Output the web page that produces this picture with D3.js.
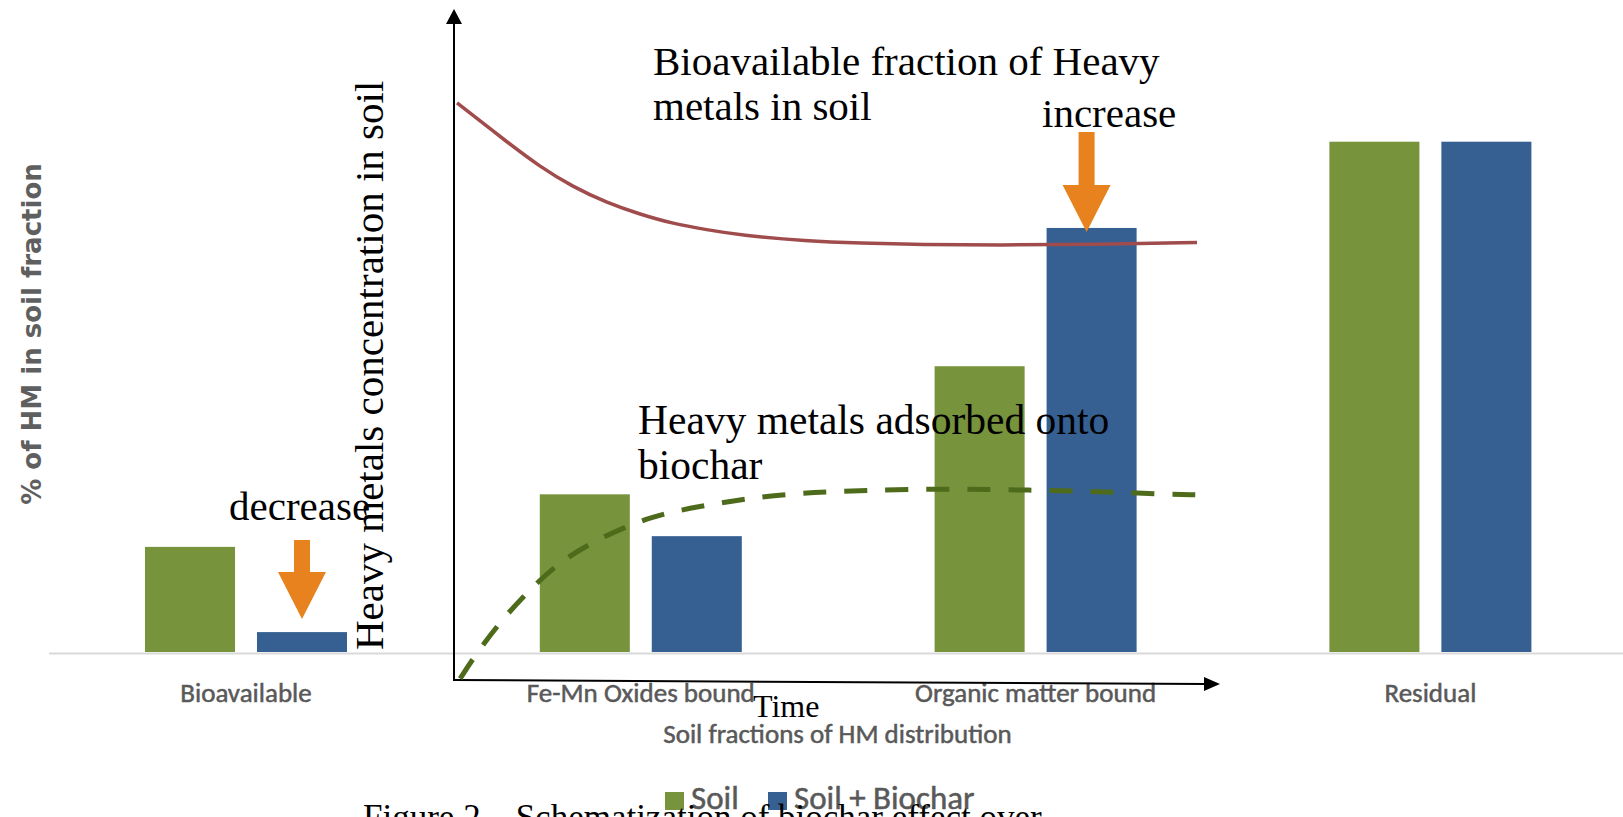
<!DOCTYPE html>
<html>
<head>
<meta charset="utf-8">
<script src="https://d3js.org/d3.v7.min.js"></script>
<style>
    body { margin: 0; background: #fff; }
    .cat-axis .domain { stroke: #d9d9d9; stroke-width: 2; }
    .cat-axis text { font-family: Carlito, Lato, sans-serif; font-size: 27px; fill: #595959; stroke: #595959; stroke-width: 0.5; }
    .gray-label { font-family: Carlito, Lato, sans-serif; fill: #595959; stroke: #595959; stroke-width: 0.5; }
    .serif { font-family: "Liberation Serif", "Times New Roman", serif; fill: #000; }
</style>
</head>
<body>
<svg id="chart" width="1623" height="817"></svg>
<script>
    // bar chart: % of HM in each soil fraction
    const categories = ["Bioavailable", "Fe-Mn Oxides bound", "Organic matter bound", "Residual"];
    const seriesNames = ["Soil", "Soil + Biochar"];
    const soilValues = [20.6, 30.9, 56.0, 100];
    const biocharValues = [3.9, 22.7, 83.1, 100];

    // schematic overlay: time (0-100) vs concentration (0-100)
    const bioTime = [0.4, 6.9, 11.2, 15.5, 20.0, 24.3, 28.6, 33.0, 37.3, 46.1, 53.0, 61.0, 71.0, 84.0, 97.0];
    const bioConc = [86.0, 80.2, 76.5, 73.5, 71.1, 69.4, 68.0, 67.1, 66.3, 65.4, 65.1, 64.9, 64.8, 64.9, 65.2];
    const adsTime = [0.8, 2.7, 6.0, 9.3, 13.8, 19.1, 25.6, 32.1, 38.6, 45.2, 54.3, 64.8, 75.2, 84.3, 92.2, 97.0];
    const adsConc = [0.2, 3.6, 8.6, 12.8, 17.7, 21.2, 24.4, 25.9, 27.1, 27.9, 28.3, 28.5, 28.3, 28.1, 27.7, 27.6];

    const svg = d3.select("#chart");
    const colors = { "Soil": "#77933c", "Soil + Biochar": "#376092" };

    //scales for the bar chart
    const x0 = d3.scaleBand().domain(categories).range([48.6, 1627.8]);
    const x1 = d3.scaleBand().domain(seriesNames)
        .range([x0.bandwidth() / 2 - 101, x0.bandwidth() / 2 + 101])
        .paddingInner(0.196);
    const y = d3.scaleLinear().domain([0, 100]).range([652, 141.7]);

    const barData = [];
    categories.forEach((c, i) => {
        barData.push({ cat: c, series: "Soil", value: soilValues[i] });
        barData.push({ cat: c, series: "Soil + Biochar", value: biocharValues[i] });
    });

    svg.append("g").selectAll("rect").data(barData)
        .join("rect")
        .attr("x", d => x0(d.cat) + x1(d.series))
        .attr("y", d => y(d.value))
        .attr("width", x1.bandwidth())
        .attr("height", d => y(0) - y(d.value))
        .attr("fill", d => colors[d.series]);

    let bottomAxis = d3.axisBottom(x0).tickSize(0).tickPadding(30);
    svg.append("g")
        .attr("class", "cat-axis")
        .attr("transform", `translate(0,653)`)
        .call(bottomAxis);

    //axis titles
    svg.append("text")
        .attr("class", "gray-label")
        .attr("text-anchor", "middle")
        .attr("x", 837.5)
        .attr("y", 743)
        .style("font-size", "27px")
        .text("Soil fractions of HM distribution");

    svg.append("text")
        .attr("text-anchor", "middle")
        .attr("transform", "translate(41,334) rotate(-90)")
        .style("font-family", "'DejaVu Sans', sans-serif")
        .style("font-weight", "bold")
        .style("font-size", "26px")
        .style("fill", "#5f5f5f")
        .text("% of HM in soil fraction");

    //legend
    const legendX = [665, 768];
    const legend = svg.append("g").selectAll("g").data(seriesNames)
        .join("g")
        .attr("transform", (d, i) => `translate(${legendX[i]},792)`);
    legend.append("rect")
        .attr("width", 19)
        .attr("height", 18)
        .attr("fill", d => colors[d]);
    legend.append("text")
        .attr("class", "gray-label")
        .attr("x", 26)
        .attr("y", 17)
        .style("font-size", "33px")
        .text(d => d);

    //overlay schematic
    const tScale = d3.scaleLinear().domain([0, 100]).range([454, 1220]);
    const cScale = d3.scaleLinear().domain([0, 100]).range([680, 9]);
    const overlay = svg.append("g");

    const ox = tScale(0), oy = cScale(0);
    overlay.append("path")
        .attr("d", `M${ox},${oy} V${cScale(100) + 14}`)
        .attr("stroke", "black").attr("stroke-width", 2).attr("fill", "none");
    overlay.append("path")
        .attr("d", `M${ox - 8},${cScale(100) + 15} L${ox},${cScale(100)} L${ox + 8},${cScale(100) + 15} Z`)
        .attr("fill", "black");
    overlay.append("path")
        .attr("d", `M${ox - 1},${oy} L${tScale(100) - 14},${oy + 4}`)
        .attr("stroke", "black").attr("stroke-width", 2).attr("fill", "none");
    overlay.append("path")
        .attr("d", `M${tScale(100) - 16},${oy - 3} L${tScale(100)},${oy + 4} L${tScale(100) - 16},${oy + 11} Z`)
        .attr("fill", "black");

    const curve = d3.line()
        .x(d => tScale(d[0]))
        .y(d => cScale(d[1]))
        .curve(d3.curveBasis);

    overlay.append("path")
        .datum(bioTime.map((t, i) => [t, bioConc[i]]))
        .attr("d", curve)
        .attr("fill", "none")
        .attr("stroke", "#a04c4c")
        .attr("stroke-width", 3.5);

    overlay.append("path")
        .datum(adsTime.map((t, i) => [t, adsConc[i]]))
        .attr("d", curve)
        .attr("fill", "none")
        .attr("stroke", "#4e6b1c")
        .attr("stroke-width", 5)
        .attr("stroke-dasharray", "23,18");

    //serif annotations
    const notes = [
        { text: "Bioavailable fraction of Heavy", x: 653, y: 75, size: 41 },
        { text: "metals in soil", x: 653, y: 120, size: 41 },
        { text: "increase", x: 1042, y: 127, size: 41 },
        { text: "Heavy metals adsorbed onto", x: 638, y: 434, size: 41.5 },
        { text: "biochar", x: 638, y: 479, size: 41.5 },
        { text: "decrease", x: 229, y: 520, size: 41 },
        { text: "Time", x: 753, y: 717, size: 32 }
    ];
    overlay.selectAll("text.note").data(notes)
        .join("text")
        .attr("class", "serif note")
        .attr("x", d => d.x)
        .attr("y", d => d.y)
        .style("font-size", d => d.size + "px")
        .text(d => d.text);

    overlay.append("text")
        .attr("class", "serif")
        .attr("transform", "translate(383,650) rotate(-90)")
        .style("font-size", "41px")
        .text("Heavy metals concentration in soil");

    //orange arrows pointing at the changed bars
    function arrowDown(cx, tipY, len) {
        const headTop = tipY - 47, shaftTop = tipY - len;
        return `M${cx - 8},${shaftTop} H${cx + 8} V${headTop} H${cx + 24} L${cx},${tipY} L${cx - 24},${headTop} H${cx - 8} Z`;
    }
    const bw = x1.bandwidth();
    const decX = x0("Bioavailable") + x1("Soil + Biochar") + bw / 2;
    const incX = x0("Organic matter bound") + x1("Soil + Biochar") + bw / 2 - 5;
    overlay.append("path")
        .attr("d", arrowDown(decX, y(biocharValues[0]) - 13, 79))
        .attr("fill", "#e7821e");
    overlay.append("path")
        .attr("d", arrowDown(incX, y(biocharValues[2]) + 4, 100))
        .attr("fill", "#e7821e");

    //figure caption, cut at the bottom edge
    svg.append("text")
        .attr("class", "serif")
        .attr("x", 363)
        .attr("y", 829)
        .style("font-size", "35px")
        .text("Figure 2 – Schematization of biochar effect over");
</script>
</body>
</html>
